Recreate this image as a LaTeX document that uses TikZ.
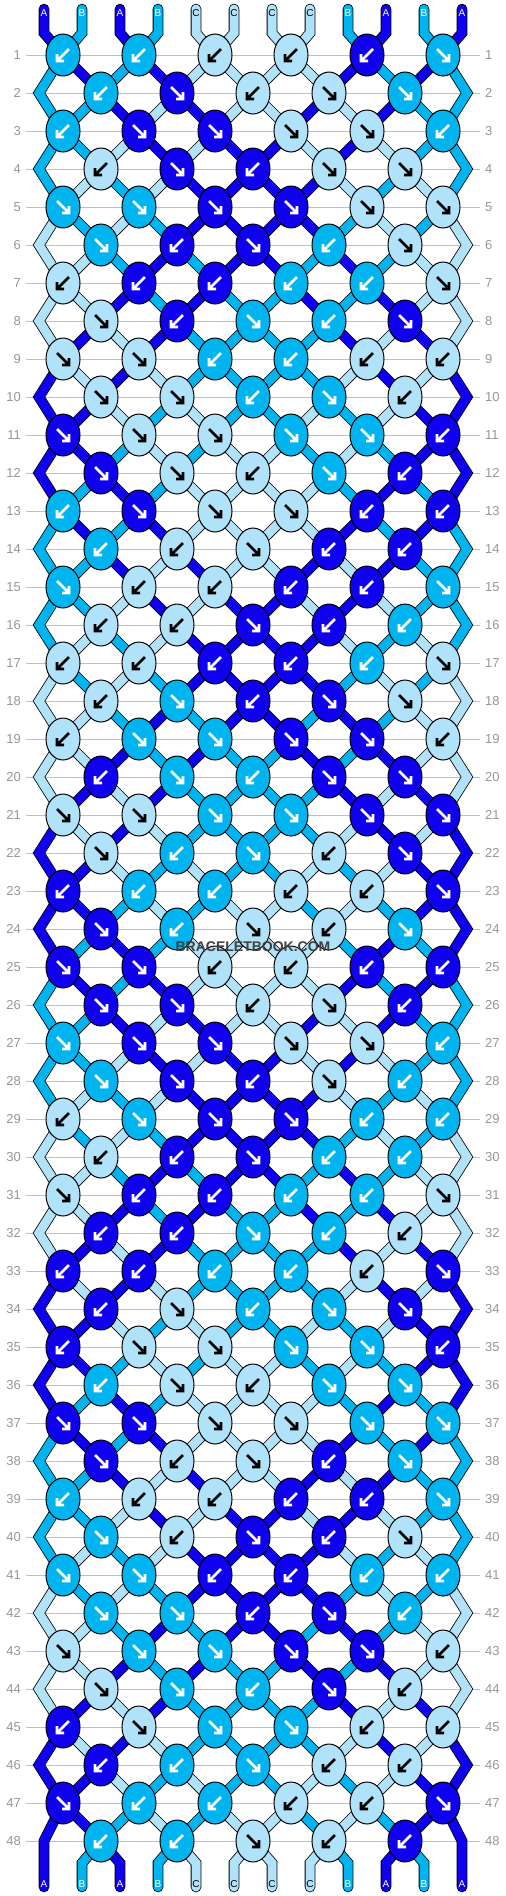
\documentclass[tikz,border=0pt]{standalone}
\usepackage{fontspec}
\setmainfont{Liberation Sans}
\usetikzlibrary{shapes.geometric}
\definecolor{cA}{RGB}{16,0,240}
\definecolor{cB}{RGB}{0,180,240}
\definecolor{cC}{RGB}{176,226,250}
\colorlet{tA}{white}
\colorlet{tB}{white}
\colorlet{tC}{black}
\definecolor{gridgray}{RGB}{192,192,192}
\definecolor{numgray}{RGB}{150,150,150}
\definecolor{wmgray}{RGB}{64,64,64}
\expandafter\def\csname pat1\endcsname{L,L,L,L,L,R}
\expandafter\def\csname pat2\endcsname{L,R,L,R,R}
\expandafter\def\csname pat3\endcsname{L,R,R,R,R,L}
\expandafter\def\csname pat4\endcsname{L,R,L,R,R}
\expandafter\def\csname pat5\endcsname{R,R,R,R,R,R}
\expandafter\def\csname pat6\endcsname{R,L,R,L,R}
\expandafter\def\csname pat7\endcsname{L,L,L,L,L,R}
\expandafter\def\csname pat8\endcsname{R,L,R,L,R}
\expandafter\def\csname pat9\endcsname{R,R,L,L,L,L}
\expandafter\def\csname pat10\endcsname{R,R,L,R,L}
\expandafter\def\csname pat11\endcsname{R,R,R,R,R,L}
\expandafter\def\csname pat12\endcsname{R,R,L,R,L}
\expandafter\def\csname pat13\endcsname{L,R,R,R,L,L}
\expandafter\def\csname pat14\endcsname{L,L,R,L,L}
\expandafter\def\csname pat15\endcsname{R,L,L,L,L,R}
\expandafter\def\csname pat16\endcsname{L,L,R,L,L}
\tikzset{
  strand/.style={draw=black, line width=0.8pt, double=#1, double distance=9pt},
  knotnode/.style={ellipse, draw=black, line width=1pt, fill=#1, minimum width=34pt, minimum height=42pt, inner sep=0pt},
  gridline/.style={draw=gridgray, line width=1pt},
  rowlab/.style={text=numgray, font=\fontsize{13}{13}\selectfont, inner sep=0pt},
  strlab/.style={font=\fontsize{10}{10}\selectfont, inner sep=0pt, text=#1},
  arrR/.pic={\draw[draw=#1, line width=2.6pt] (-6,-6) -- (4.5,4.5) (6,-1) -- (6,6) -- (-1,6);},
  arrL/.pic={\draw[draw=#1, line width=2.6pt] (6,-6) -- (-4.5,4.5) (-6,-1) -- (-6,6) -- (1,6);},
}
\begin{document}
\begin{tikzpicture}[x=1pt,y=-1pt]
\useasboundingbox (0,0) rectangle (506,1896);
% ---- simulate the strings ----
\def\initS{A,B,A,B,C,C,C,C,B,A,B,A}
\foreach \c [count=\i] in \initS {\expandafter\xdef\csname S0-\i\endcsname{\c}}
\foreach \r in {1,...,48}{
  \pgfmathtruncatemacro\q{\r-1}
  \pgfmathtruncatemacro\p{mod(\r-1,16)+1}
  \pgfmathtruncatemacro\od{mod(\r,2)}
  \foreach \i in {1,...,12}{\expandafter\xdef\csname S\r-\i\endcsname{\csname S\q-\i\endcsname}}
  \edef\curpat{\csname pat\p\endcsname}
  \foreach \d [count=\k] in \curpat {
    \pgfmathtruncatemacro\a{\od==1 ? 2*\k-1 : 2*\k}
    \pgfmathtruncatemacro\b{\a+1}
    \edef\Lc{\csname S\r-\a\endcsname}
    \edef\Rc{\csname S\r-\b\endcsname}
    \expandafter\xdef\csname D\r-\k\endcsname{\d}
    \if\d R\expandafter\xdef\csname K\r-\k\endcsname{\Lc}\else\expandafter\xdef\csname K\r-\k\endcsname{\Rc}\fi
    \expandafter\xdef\csname S\r-\a\endcsname{\Rc}
    \expandafter\xdef\csname S\r-\b\endcsname{\Lc}
  }
}
% ---- coordinates, grid lines, row numbers ----
\foreach \r in {1,...,48}{
  \pgfmathsetmacro\yy{55+38*(\r-1)}
  \pgfmathtruncatemacro\od{mod(\r,2)}
  \ifnum\od=1
    \foreach \k in {1,...,6}{\coordinate (p-\r-\k) at ({63+76*(\k-1)},\yy);}
  \else
    \foreach \k in {1,...,5}{\coordinate (p-\r-\k) at ({101+76*(\k-1)},\yy);}
    \coordinate (eL-\r) at (39,\yy);
    \coordinate (eR-\r) at (467,\yy);
  \fi
  \draw[gridline] (26,\yy) -- (480,\yy);
  \node[rowlab, anchor=east] (nl-\r) at (21,\yy) {\r};
  \node[rowlab, anchor=west] (nr-\r) at (485,\yy) {\r};
}
\coordinate (eL-48) at (44,1841);
\coordinate (eR-48) at (462,1841);
\foreach \i in {1,...,12}{
  \pgfmathsetmacro\xx{44+38*(\i-1)}
  \coordinate (t-\i) at (\xx,9);
  \coordinate (tb-\i) at (\xx,33);
  \coordinate (bb-\i) at (\xx,1863);
  \coordinate (b-\i) at (\xx,1887);
}
% ---- strings ----
\foreach \i in {1,...,12}{
  \pgfmathtruncatemacro\kk{floor((\i+1)/2)}
  \edef\col{c\csname S0-\i\endcsname}
  \draw[strand=\col, line cap=round] (t-\i) -- (tb-\i) -- (p-1-\kk);
}
\foreach \r in {1,...,47}{
  \pgfmathtruncatemacro\od{mod(\r,2)}
  \pgfmathtruncatemacro\rn{\r+1}
  \foreach \i in {2,...,11}{
    \pgfmathtruncatemacro\ka{\od==1 ? floor((\i+1)/2) : floor(\i/2)}
    \pgfmathtruncatemacro\kb{\od==1 ? floor(\i/2) : floor((\i+1)/2)}
    \edef\col{c\csname S\r-\i\endcsname}
    \draw[strand=\col] (p-\r-\ka) -- (p-\rn-\kb);
  }
}
\foreach \r in {1,3,...,45}{
  \pgfmathtruncatemacro\ra{\r+1}
  \pgfmathtruncatemacro\rb{\r+2}
  \edef\col{c\csname S\r-1\endcsname}
  \draw[strand=\col] (p-\r-1) -- (eL-\ra) -- (p-\rb-1);
  \edef\col{c\csname S\r-12\endcsname}
  \draw[strand=\col] (p-\r-6) -- (eR-\ra) -- (p-\rb-6);
}
\foreach \i in {2,...,11}{
  \pgfmathtruncatemacro\kk{floor(\i/2)}
  \edef\col{c\csname S48-\i\endcsname}
  \draw[strand=\col, line cap=round] (p-48-\kk) -- (bb-\i) -- (b-\i);
}
\edef\col{c\csname S48-1\endcsname}
\draw[strand=\col, line cap=round] (p-47-1) -- (eL-48) -- (b-1);
\edef\col{c\csname S48-12\endcsname}
\draw[strand=\col, line cap=round] (p-47-6) -- (eR-48) -- (b-12);
% ---- knots ----
\foreach \r in {1,...,48}{
  \pgfmathtruncatemacro\od{mod(\r,2)}
  \pgfmathtruncatemacro\nk{\od==1 ? 6 : 5}
  \foreach \k in {1,...,\nk}{
    \edef\kfill{c\csname K\r-\k\endcsname}
    \edef\karr{t\csname K\r-\k\endcsname}
    \edef\kd{\csname D\r-\k\endcsname}
    \node[knotnode=\kfill] (k-\r-\k) at (p-\r-\k) {};
    \if R\kd \pic at (k-\r-\k.center) {arrR=\karr};\else \pic at (k-\r-\k.center) {arrL=\karr};\fi
  }
}
% ---- string letters ----
\foreach \i in {1,...,12}{
  \pgfmathsetmacro\xx{44+38*(\i-1)}
  \edef\la{\csname S0-\i\endcsname}
  \edef\lb{\csname S48-\i\endcsname}
  \node[strlab=t\la] (lt-\i) at (\xx,13) {\la};
  \node[strlab=t\lb] (lb-\i) at (\xx,1884) {\lb};
}
\node[font=\bfseries\fontsize{14}{14}\selectfont, text=wmgray, inner sep=0pt] (wm) at (253,947) {BRACELETBOOK.COM};
\end{tikzpicture}
\end{document}
